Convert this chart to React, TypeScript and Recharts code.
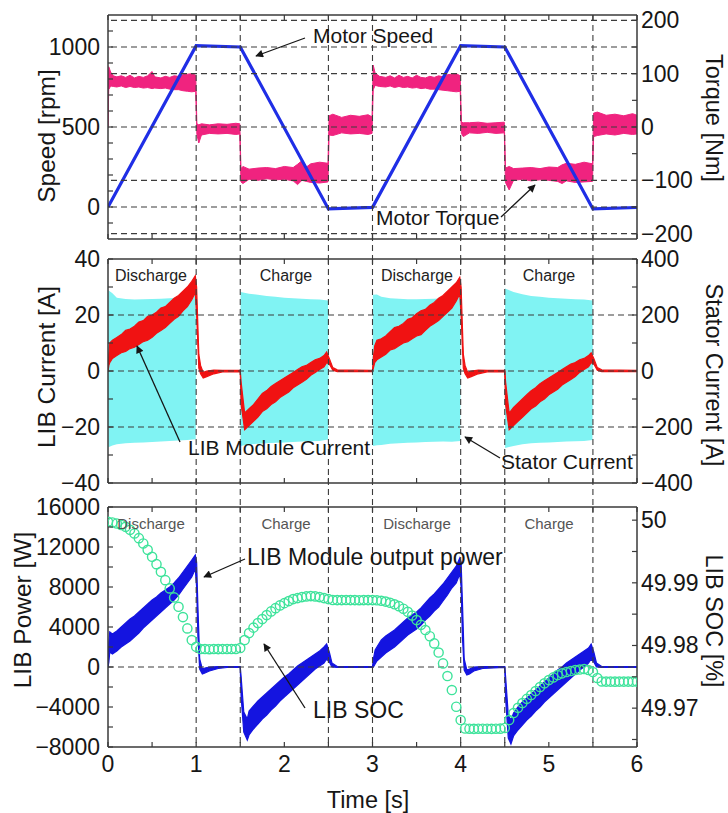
import React from "react"
import { ComposedChart, Line, Area, XAxis, YAxis, ReferenceLine } from "recharts"

// ─── Shared time axis ─────────────────────────────────────────────────────────
const timeTicks = [0, 0.5, 1, 1.5, 2, 2.5, 3, 3.5, 4, 4.5, 5, 5.5, 6]
const timeLabels = [0, 1, 2, 3, 4, 5, 6]
const phaseBounds = [1, 1.5, 2.5, 3, 4, 4.5, 5.5]

// ─── Panel 1: motor speed / torque ────────────────────────────────────────────
// [t (s), rpm]
const motorSpeed: [number, number][] = [
  [0, 0], [1, 1008], [1.5, 1000], [2.5, -12], [3, -2],
  [4, 1008], [4.5, 1000], [5.5, -12], [6, -3],
]
// [t (s), low, high] envelope of the noisy torque trace (Nm)
const motorTorque: [number, number, number][] = [
  [0, -2, 2], [0.008, 70, 113], [0.03, 77, 103], [0.06, 76, 96], [0.1, 75, 94],
  [0.15, 77, 96], [0.2, 74, 93], [0.25, 76, 97], [0.3, 74, 92], [0.35, 75, 95],
  [0.4, 73, 93], [0.45, 74, 96], [0.5, 72, 104], [0.53, 73, 94], [0.6, 72, 92],
  [0.65, 73, 95], [0.7, 71, 93], [0.75, 70, 96], [0.8, 70, 95], [0.85, 68, 98],
  [0.9, 67, 99], [0.95, 66, 100], [0.995, 67, 97],
  [1.008, -14, 6], [1.03, -30, 4], [1.06, -15, 6], [1.15, -12, 4], [1.25, -13, 6],
  [1.35, -12, 5], [1.45, -14, 7], [1.495, -13, 6],
  [1.508, -103, -78], [1.53, -106, -74], [1.6, -98, -79], [1.7, -100, -77],
  [1.8, -97, -76], [1.9, -99, -78], [2.0, -98, -74], [2.1, -101, -76],
  [2.15, -108, -70], [2.2, -100, -63], [2.25, -102, -75], [2.3, -104, -69],
  [2.4, -105, -66], [2.495, -103, -68],
  [2.508, -15, 21], [2.55, -16, 24], [2.65, -11, 18], [2.75, -13, 22],
  [2.85, -12, 20], [2.95, -14, 23], [2.995, -12, 19],
  [3.008, 70, 116], [3.03, 78, 101], [3.08, 76, 95], [3.15, 75, 93], [3.2, 77, 96],
  [3.25, 74, 92], [3.3, 76, 97], [3.35, 74, 93], [3.4, 75, 95], [3.45, 73, 92],
  [3.5, 74, 97], [3.55, 72, 93], [3.6, 73, 92], [3.65, 71, 95], [3.7, 71, 93],
  [3.75, 70, 96], [3.8, 69, 94], [3.85, 68, 98], [3.9, 67, 99], [3.95, 66, 100],
  [3.995, 67, 96],
  [4.008, -12, 9], [4.03, -18, 8], [4.1, -11, 8], [4.2, -12, 9], [4.3, -10, 7],
  [4.4, -12, 8], [4.495, -11, 9],
  [4.508, -104, -77], [4.55, -118, -74], [4.6, -100, -78], [4.7, -98, -77],
  [4.8, -101, -76], [4.9, -99, -78], [5.0, -100, -75], [5.1, -102, -76],
  [5.15, -106, -71], [5.2, -101, -68], [5.3, -104, -70], [5.4, -103, -66],
  [5.495, -102, -69],
  [5.508, -18, 26], [5.55, -16, 28], [5.65, -13, 22], [5.75, -15, 24],
  [5.85, -12, 21], [5.95, -14, 25], [6, -13, 22],
]
const speedTicks = [-100, 0, 100, 200, 300, 400, 500, 600, 700, 800, 900, 1000, 1100]
const speedLabels = [0, 500, 1000]
const torqueTicks = [-200, -150, -100, -50, 0, 50, 100, 150, 200]
const torqueLabels = [-200, -100, 0, 100, 200]
const torqueGrid = [-200, -150, -100, 0, 100, 150, 200]

// ─── Panel 2: LIB module current / stator current ─────────────────────────────
// [t, low, high] (A, LIB axis)
const libCurrent: [number, number, number][] = [
  [0, -0.2, 0.2], [0.01, 2, 6], [0.02, 3, 10], [0.05, 4.5, 11], [0.1, 5.5, 12],
  [0.15, 6.5, 13], [0.2, 7, 14.5], [0.25, 8, 15], [0.3, 8.5, 16], [0.35, 9.5, 17.5],
  [0.4, 10.5, 18], [0.45, 11, 19.5], [0.5, 12, 20], [0.55, 13.5, 21], [0.6, 14.5, 22.5],
  [0.65, 15.5, 23], [0.7, 17, 24.5], [0.75, 18.5, 26], [0.8, 19.5, 27], [0.85, 21.5, 28.5],
  [0.9, 23, 30], [0.95, 25.5, 32], [0.99, 28, 34], [1.005, 20, 30], [1.03, 1, 6],
  [1.05, -1, 2], [1.08, -2.5, -0.5], [1.12, -2, 0], [1.2, -1, 0.3], [1.3, -0.3, 0.2],
  [1.5, -0.2, 0.2], [1.51, -12, -4], [1.55, -21, -15], [1.6, -19.5, -13.5],
  [1.65, -18, -12], [1.7, -16.5, -10], [1.75, -14.5, -8], [1.8, -13.5, -7],
  [1.85, -12, -5.5], [1.9, -11, -4.5], [1.95, -9.5, -3.5], [2.0, -8.5, -2.5],
  [2.05, -7.5, -1.5], [2.1, -6, -0.5], [2.15, -5, 0.5], [2.2, -4, 1.5], [2.25, -3, 2],
  [2.3, -1.5, 3], [2.35, -0.5, 4], [2.4, 0.5, 4.5], [2.45, 1.5, 5.5], [2.48, 3, 6.8],
  [2.51, 2.5, 4.5], [2.55, 0.3, 1.2], [2.6, -0.2, 0.4], [3.0, -0.2, 0.2],
  [3.01, 1, 5], [3.025, 3, 9], [3.05, 4, 11], [3.1, 5, 11.5], [3.15, 6, 12.5],
  [3.2, 7.5, 14], [3.25, 8, 15.5], [3.3, 9, 16], [3.35, 10, 17], [3.4, 10.5, 18.5],
  [3.45, 11.5, 19], [3.5, 12.5, 20.5], [3.55, 13, 21.5], [3.6, 14.5, 22], [3.65, 16, 23.5],
  [3.7, 17, 24.5], [3.75, 18, 26], [3.8, 19.5, 27], [3.85, 21, 28.5], [3.9, 22.5, 30],
  [3.95, 25, 31.5], [3.99, 27.5, 33.5], [4.005, 20, 30], [4.03, 1, 6], [4.05, -1, 2],
  [4.08, -2.5, -0.5], [4.12, -2, 0], [4.2, -1, 0.3], [4.3, -0.3, 0.2], [4.5, -0.2, 0.2],
  [4.51, -12, -4], [4.55, -21, -15], [4.6, -19.5, -13], [4.65, -18, -11.5],
  [4.7, -16.5, -10], [4.75, -15, -8.5], [4.8, -13.5, -7], [4.85, -12.5, -6],
  [4.9, -11, -4.5], [4.95, -10, -3.5], [5.0, -8.5, -2.5], [5.05, -7.5, -1.5],
  [5.1, -6.5, -0.5], [5.15, -5, 0.5], [5.2, -4, 1.5], [5.25, -3, 2.5], [5.3, -2, 3],
  [5.35, -0.5, 4], [5.4, 0.5, 4.5], [5.45, 1.5, 5.5], [5.48, 3, 6.5], [5.51, 2.5, 4.5],
  [5.55, 0.3, 1.2], [5.6, -0.2, 0.4], [6, -0.2, 0.2],
]
// [t, low, high] envelope of the switching stator current (A, stator axis)
const statorCurrent: [number, number, number][] = [
  [0, 0, 0], [0.004, -272, 288], [0.05, -266, 278], [0.1, -262, 262], [0.2, -258, 257],
  [0.3, -256, 255], [0.4, -255, 256], [0.5, -254, 257], [0.6, -252, 258], [0.7, -250, 260],
  [0.8, -248, 262], [0.9, -246, 266], [0.995, -244, 280], [1.0, 0, 0],
  [1.5, 0, 0], [1.504, -268, 282], [1.6, -262, 276], [1.7, -260, 272], [1.8, -258, 268],
  [1.9, -256, 265], [2.0, -255, 262], [2.1, -254, 260], [2.2, -252, 258], [2.3, -251, 256],
  [2.4, -250, 255], [2.495, -245, 252], [2.5, 0, 0],
  [3.0, 0, 0], [3.004, -268, 272], [3.05, -265, 273], [3.1, -264, 265], [3.2, -260, 260],
  [3.3, -258, 258], [3.4, -256, 256], [3.5, -255, 256], [3.6, -254, 257], [3.7, -253, 258],
  [3.8, -252, 260], [3.9, -253, 262], [3.995, -250, 265], [4.0, 0, 0],
  [4.5, 0, 0], [4.504, -275, 295], [4.6, -268, 282], [4.7, -262, 274], [4.8, -258, 268],
  [4.9, -256, 265], [5.0, -255, 262], [5.1, -254, 260], [5.2, -252, 258], [5.3, -251, 256],
  [5.4, -250, 255], [5.495, -246, 252], [5.5, 0, 0], [6, 0, 0],
]
const libTicks = [-40, -30, -20, -10, 0, 10, 20, 30, 40]
const libLabels = [-40, -20, 0, 20, 40]
const statorTicks = [-400, -300, -200, -100, 0, 100, 200, 300, 400]
const statorLabels = [-400, -200, 0, 200, 400]
const libGrid = [-20, 0, 20]

// ─── Panel 3: LIB power / SOC ─────────────────────────────────────────────────
// [t, low, high] (W)
const libPower: [number, number, number][] = [
  [0, -50, 50], [0.01, 500, 2500], [0.02, 1500, 3500], [0.05, 1300, 3300], [0.1, 1600, 3600],
  [0.15, 2000, 4000], [0.2, 2300, 4400], [0.25, 2600, 4800], [0.3, 3000, 5100],
  [0.35, 3400, 5500], [0.4, 3900, 5900], [0.45, 4300, 6300], [0.5, 4700, 6700],
  [0.55, 5100, 7000], [0.6, 5500, 7400], [0.65, 5900, 7700], [0.7, 6300, 8000],
  [0.75, 6700, 8400], [0.8, 7200, 8900], [0.85, 7800, 9500], [0.9, 8400, 10100],
  [0.95, 9000, 10700], [0.99, 9800, 11200], [1.005, 8000, 10500], [1.02, 3000, 6000],
  [1.04, -200, 800], [1.07, -700, -200], [1.1, -600, -100], [1.15, -400, 0],
  [1.25, -150, 50], [1.35, -50, 50], [1.5, -50, 50], [1.51, -3000, -1000],
  [1.54, -6500, -4500], [1.58, -7300, -5200], [1.6, -6800, -4400], [1.65, -6200, -3900],
  [1.7, -5700, -3400], [1.75, -5200, -3000], [1.8, -4800, -2600], [1.85, -4300, -2200],
  [1.9, -3900, -1800], [1.95, -3400, -1400], [2.0, -3000, -1000], [2.05, -2600, -700],
  [2.1, -2200, -300], [2.15, -1800, 100], [2.2, -1400, 400], [2.25, -1000, 700],
  [2.3, -600, 1000], [2.35, -200, 1300], [2.4, 100, 1600], [2.45, 400, 2000],
  [2.48, 800, 2300], [2.51, 500, 1500], [2.54, 0, 400], [2.6, -50, 50], [3.0, -50, 50],
  [3.01, 0, 800], [3.03, 300, 1700], [3.05, 600, 2000], [3.1, 1000, 2700],
  [3.15, 1400, 3100], [3.2, 1700, 3400], [3.25, 2000, 3700], [3.3, 2400, 4100],
  [3.35, 2800, 4500], [3.4, 3200, 4900], [3.45, 3500, 5200], [3.5, 3800, 5500],
  [3.55, 4200, 5900], [3.6, 4700, 6400], [3.65, 5100, 6900], [3.7, 5600, 7300],
  [3.75, 6000, 7800], [3.8, 6600, 8300], [3.85, 7200, 8900], [3.9, 7900, 9500],
  [3.95, 8400, 10100], [3.99, 9300, 10900], [4.005, 8000, 10500], [4.02, 3000, 6500],
  [4.04, -300, 800], [4.07, -800, -300], [4.1, -700, -200], [4.15, -400, 0],
  [4.25, -150, 50], [4.5, -50, 50], [4.51, -3200, -1000], [4.54, -7100, -4800],
  [4.57, -7700, -5300], [4.6, -6900, -4600], [4.65, -6300, -4000], [4.7, -5800, -3500],
  [4.75, -5300, -3100], [4.8, -4900, -2700], [4.85, -4400, -2300], [4.9, -4000, -1900],
  [4.95, -3500, -1500], [5.0, -3100, -1100], [5.05, -2700, -700], [5.1, -2300, -300],
  [5.15, -1900, 0], [5.2, -1500, 400], [5.25, -1100, 700], [5.3, -700, 1000],
  [5.35, -300, 1300], [5.4, 0, 1600], [5.45, 400, 1900], [5.48, 800, 2300],
  [5.51, 500, 1500], [5.54, 0, 400], [5.6, -50, 50], [6, -50, 50],
]
// [t, SOC %]
const libSoc: [number, number][] = [
  [0, 49.99973], [0.05, 49.99963], [0.1, 49.99947], [0.15, 49.99923], [0.2, 49.99893],
  [0.25, 49.99845], [0.3, 49.99788], [0.35, 49.99713], [0.4, 49.99628], [0.45, 49.99526],
  [0.5, 49.99415], [0.55, 49.99298], [0.6, 49.99175], [0.65, 49.99043], [0.7, 49.98911],
  [0.75, 49.98767], [0.8, 49.98617], [0.85, 49.98453], [0.9, 49.98273], [0.95, 49.98086],
  [1.0, 49.97979], [1.05, 49.97945], [1.1, 49.97943], [1.15, 49.97941], [1.2, 49.97943],
  [1.25, 49.97942], [1.3, 49.97943], [1.35, 49.97944], [1.4, 49.97943], [1.45, 49.97945],
  [1.5, 49.97959], [1.55, 49.98086], [1.6, 49.98198], [1.65, 49.98285], [1.7, 49.98357],
  [1.75, 49.98421], [1.8, 49.98485], [1.85, 49.98544], [1.9, 49.98596], [1.95, 49.9864],
  [2.0, 49.98676], [2.05, 49.98708], [2.1, 49.9874], [2.15, 49.98756], [2.2, 49.98772],
  [2.25, 49.98783], [2.3, 49.98788], [2.35, 49.98783], [2.4, 49.98772], [2.45, 49.98756],
  [2.5, 49.9874], [2.55, 49.98726], [2.6, 49.98724], [2.65, 49.98724], [2.7, 49.98725],
  [2.75, 49.98724], [2.8, 49.98724], [2.85, 49.98723], [2.9, 49.98724], [2.95, 49.98724],
  [3.0, 49.98724], [3.05, 49.98721], [3.1, 49.98713], [3.15, 49.987], [3.2, 49.98681],
  [3.25, 49.98657], [3.3, 49.98628], [3.35, 49.98587], [3.4, 49.98537], [3.45, 49.98477],
  [3.5, 49.98405], [3.55, 49.98329], [3.6, 49.98246], [3.65, 49.98147], [3.7, 49.98033],
  [3.75, 49.97887], [3.8, 49.97714], [3.85, 49.97512], [3.9, 49.97289], [3.95, 49.97022],
  [4.0, 49.9681], [4.05, 49.96675], [4.1, 49.96672], [4.15, 49.9667], [4.2, 49.96672],
  [4.25, 49.96671], [4.3, 49.96672], [4.35, 49.9667], [4.4, 49.96672], [4.45, 49.96673],
  [4.5, 49.96683], [4.55, 49.9681], [4.6, 49.96922], [4.65, 49.97005], [4.7, 49.97081],
  [4.75, 49.97148], [4.8, 49.97209], [4.85, 49.97273], [4.9, 49.97337], [4.95, 49.97396],
  [5.0, 49.97448], [5.05, 49.97491], [5.1, 49.97528], [5.15, 49.97555], [5.2, 49.97576],
  [5.25, 49.97592], [5.3, 49.97608], [5.35, 49.97616], [5.4, 49.97624], [5.45, 49.97608],
  [5.5, 49.97576], [5.55, 49.9748], [5.6, 49.97426], [5.65, 49.97424], [5.7, 49.97424],
  [5.75, 49.97423], [5.8, 49.97424], [5.85, 49.97424], [5.9, 49.97424], [5.95, 49.97424],
  [6.0, 49.97424],
]
const powerTicks = [-8000, -6000, -4000, -2000, 0, 2000, 4000, 6000, 8000, 10000, 12000, 14000, 16000]
const powerLabels = [-8000, -4000, 0, 4000, 8000, 12000, 16000]
const socTicks = [49.965, 49.97, 49.975, 49.98, 49.985, 49.99, 49.995, 50]
const socLabels = [49.97, 49.98, 49.99, 50]

// ─── Look ─────────────────────────────────────────────────────────────────────
const FONT = '"Liberation Sans", Arial, Helvetica, sans-serif'
const INK = "#161616"
const FRAME = "#3a3a3a"
const GRID = "#3c3c3c"
const PLOT_L = 108
const PLOT_R = 637
const LEFT_W = 108
const RIGHT_W = 91
const C_SPEED = "#1f2ee6"
const C_TORQUE = "#f0237f"
const C_LIB = "#f01212"
const C_STATOR = "#80f3f3"
const C_POWER = "#1414e0"
const C_SOC = "#3ee39b"

const bandRows = (src: [number, number, number][]) => src.map(([t, lo, hi]) => ({ t, band: [lo, hi] }))
const lineRows = (src: [number, number][]) => src.map(([t, v]) => ({ t, v }))

const fmt = (v: number) => (v < 0 ? "\u2212" + String(-v) : String(v))

function yTick(side: "left" | "right", labels: number[]) {
  return (p: any) => {
    const v = p.payload.value
    const edge = side === "left" ? PLOT_L : PLOT_R
    const dir = side === "left" ? 1 : -1
    return (
      <g>
        <line x1={edge} x2={edge + dir * 5} y1={p.y} y2={p.y} stroke={FRAME} strokeWidth={1.2} />
        {labels.includes(v) && (
          <text
            x={side === "left" ? edge - 8 : edge + 4}
            y={p.y + 8}
            textAnchor={side === "left" ? "end" : "start"}
            fontSize={23}
            fontFamily={FONT}
            fill={INK}
          >
            {fmt(v)}
          </text>
        )}
      </g>
    )
  }
}

function xTick(edgeY: number, dir: 1 | -1, withLabels: boolean) {
  return (p: any) => {
    const v = p.payload.value
    return (
      <g>
        <line x1={p.x} x2={p.x} y1={edgeY} y2={edgeY + dir * 5} stroke={FRAME} strokeWidth={1.2} />
        {withLabels && timeLabels.includes(v) && (
          <text x={p.x} y={edgeY + 25} textAnchor="middle" fontSize={23} fontFamily={FONT} fill={INK}>
            {v}
          </text>
        )}
      </g>
    )
  }
}

const axisLine = { stroke: FRAME, strokeWidth: 1.5 }
const dash = { stroke: GRID, strokeWidth: 1.1, strokeDasharray: "6 4" }

function timeAxes(topEdge: number, bottomEdge: number, topH: number, bottomH: number, labels: boolean) {
  return [
    <XAxis
      key="xb"
      xAxisId="b"
      dataKey="t"
      type="number"
      domain={[0, 6]}
      allowDataOverflow
      ticks={timeTicks}
      interval={0}
      height={bottomH}
      axisLine={axisLine}
      tickLine={false}
      tick={xTick(bottomEdge, -1, labels)}
    />,
    <XAxis
      key="xt"
      xAxisId="t"
      orientation="top"
      dataKey="t"
      type="number"
      domain={[0, 6]}
      allowDataOverflow
      ticks={timeTicks}
      interval={0}
      height={topH}
      axisLine={axisLine}
      tickLine={false}
      tick={xTick(topEdge, 1, false)}
    />,
  ]
}

function yAxis(id: string, side: "left" | "right", domain: number[], ticks: number[], labels: number[]) {
  return (
    <YAxis
      yAxisId={id}
      orientation={side}
      type="number"
      domain={domain}
      allowDataOverflow
      ticks={ticks}
      interval={0}
      width={side === "left" ? LEFT_W : RIGHT_W}
      axisLine={axisLine}
      tickLine={false}
      tick={yTick(side, labels)}
    />
  )
}

function phaseLines(yAxisId: string, yTop: number, yEnd: number) {
  return phaseBounds.map((t) => (
    <ReferenceLine
      key={"p" + t}
      xAxisId="b"
      yAxisId={yAxisId}
      segment={[{ x: t, y: yTop }, { x: t, y: yEnd }]}
      ifOverflow="visible"
      {...dash}
    />
  ))
}

function gridLines(yAxisId: string, values: number[]) {
  return values.map((v) => (
    <ReferenceLine key={"g" + v} xAxisId="b" yAxisId={yAxisId} y={v} ifOverflow="visible" {...dash} />
  ))
}

// ─── Annotations (page pixel positions) ───────────────────────────────────────
const notes = [
  { text: "Motor Speed", x: 313, y: 43, size: 21 },
  { text: "Motor Torque", x: 376, y: 225, size: 21 },
  { text: "LIB Module Current", x: 188, y: 455, size: 21 },
  { text: "Stator Current", x: 501, y: 469, size: 21 },
  { text: "LIB Module output power", x: 247, y: 565, size: 23 },
  { text: "LIB SOC", x: 313, y: 718, size: 23 },
]
const arrows = [
  [305, 38, 256, 56],
  [501, 217, 535, 185],
  [180, 442, 137, 346],
  [500, 458, 465, 437],
  [245, 559, 204, 577],
  [305, 708, 264, 644],
]
const phaseNames = ["Discharge", "Charge", "Discharge", "Charge"]
const phaseNameX = [151, 286, 417, 549]

export default function App() {
  return (
    <div style={{ position: "absolute", left: 0, top: 0, width: 728, height: 813, background: "#fff", fontFamily: FONT }}>
      {/* Panel 1: plot 15..239 */}
      <div style={{ position: "absolute", left: 0, top: 0 }}>
        <ComposedChart width={728} height={259} margin={{ top: 0, right: 0, bottom: 0, left: 0 }}>
          {timeAxes(15, 239, 15, 20, false)}
          {yAxis("speed", "left", [-200, 1200], speedTicks, speedLabels)}
          {yAxis("torque", "right", [-210, 210], torqueTicks, torqueLabels)}
          <Area
            xAxisId="b"
            yAxisId="torque"
            data={bandRows(motorTorque)}
            dataKey="band"
            type="linear"
            stroke={C_TORQUE}
            strokeWidth={1}
            fill={C_TORQUE}
            fillOpacity={1}
            isAnimationActive={false}
          />
          <Line
            xAxisId="b"
            yAxisId="speed"
            data={lineRows(motorSpeed)}
            dataKey="v"
            type="linear"
            stroke={C_SPEED}
            strokeWidth={3.2}
            dot={false}
            isAnimationActive={false}
          />
          {gridLines("torque", torqueGrid)}
          {phaseLines("torque", 210, -247.5)}
        </ComposedChart>
      </div>

      {/* Panel 2: plot 259..483 */}
      <div style={{ position: "absolute", left: 0, top: 239 }}>
        <ComposedChart width={728} height={268} margin={{ top: 0, right: 0, bottom: 0, left: 0 }}>
          {timeAxes(20, 244, 20, 24, false)}
          {yAxis("lib", "left", [-40, 40], libTicks, libLabels)}
          {yAxis("stator", "right", [-400, 400], statorTicks, statorLabels)}
          <Area
            xAxisId="b"
            yAxisId="stator"
            data={bandRows(statorCurrent)}
            dataKey="band"
            type="linear"
            stroke="none"
            fill={C_STATOR}
            fillOpacity={1}
            isAnimationActive={false}
          />
          <Area
            xAxisId="b"
            yAxisId="lib"
            data={bandRows(libCurrent)}
            dataKey="band"
            type="linear"
            stroke={C_LIB}
            strokeWidth={1.2}
            fill={C_LIB}
            fillOpacity={1}
            isAnimationActive={false}
          />
          {gridLines("lib", libGrid)}
          {phaseLines("lib", 40, -48.6)}
        </ComposedChart>
      </div>

      {/* Panel 3: plot 507..747 */}
      <div style={{ position: "absolute", left: 0, top: 483 }}>
        <ComposedChart width={728} height={330} margin={{ top: 0, right: 0, bottom: 0, left: 0 }}>
          {timeAxes(24, 264, 24, 66, true)}
          {yAxis("power", "left", [-8000, 16000], powerTicks, powerLabels)}
          {yAxis("soc", "right", [49.9638, 50.0021], socTicks, socLabels)}
          <Area
            xAxisId="b"
            yAxisId="power"
            data={bandRows(libPower)}
            dataKey="band"
            type="linear"
            stroke={C_POWER}
            strokeWidth={1.2}
            fill={C_POWER}
            fillOpacity={1}
            isAnimationActive={false}
          />
          <Line
            xAxisId="b"
            yAxisId="soc"
            data={lineRows(libSoc)}
            dataKey="v"
            type="linear"
            stroke="none"
            dot={{ r: 4.6, fill: "none", stroke: C_SOC, strokeWidth: 1.4 }}
            isAnimationActive={false}
          />
          {gridLines("power", [0])}
          {phaseLines("power", 16000, -8000)}
        </ComposedChart>
      </div>

      {/* Titles and annotations */}
      <svg width={728} height={813} style={{ position: "absolute", left: 0, top: 0, pointerEvents: "none" }}>
        <defs>
          <marker id="head" viewBox="0 0 10 10" refX="9" refY="5" markerWidth="7" markerHeight="6" orient="auto">
            <path d="M0,0 L10,5 L0,10 z" fill={INK} />
          </marker>
        </defs>
        <g fontFamily={FONT} fill={INK}>
          <text transform="translate(55,136) rotate(-90)" textAnchor="middle" fontSize={24.5}>Speed [rpm]</text>
          <text transform="translate(55,367) rotate(-90)" textAnchor="middle" fontSize={24.5}>LIB Current [A]</text>
          <text transform="translate(31,610) rotate(-90)" textAnchor="middle" fontSize={24.5}>LIB Power [W]</text>
          <text transform="translate(706,118) rotate(90)" textAnchor="middle" fontSize={23.5}>Torque [Nm]</text>
          <text transform="translate(706,375) rotate(90)" textAnchor="middle" fontSize={23.5}>Stator Current [A]</text>
          <text transform="translate(706,621) rotate(90)" textAnchor="middle" fontSize={23.5}>LIB SOC [%]</text>
          <text x={368} y={808} textAnchor="middle" fontSize={23.5}>Time [s]</text>
          {phaseNames.map((n, i) => (
            <text key={"a" + i} x={phaseNameX[i]} y={281} textAnchor="middle" fontSize={16} fill="#222">{n}</text>
          ))}
          {phaseNames.map((n, i) => (
            <text key={"b" + i} x={phaseNameX[i]} y={529} textAnchor="middle" fontSize={15} fill="#555">{n}</text>
          ))}
          {notes.map((n) => (
            <text key={n.text} x={n.x} y={n.y} fontSize={n.size}>{n.text}</text>
          ))}
        </g>
        {arrows.map(([x1, y1, x2, y2], i) => (
          <line key={i} x1={x1} y1={y1} x2={x2} y2={y2} stroke={INK} strokeWidth={1.3} markerEnd="url(#head)" />
        ))}
      </svg>
    </div>
  )
}
